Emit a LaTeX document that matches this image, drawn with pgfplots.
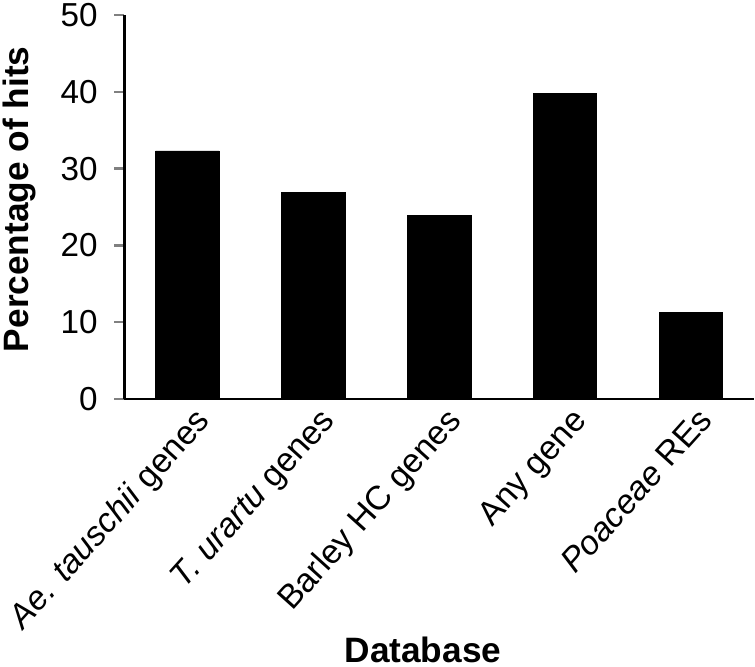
\documentclass[border=0pt]{standalone}
\usepackage{fontspec}
\setmainfont{Liberation Sans}
\usepackage{pgfplots}
\pgfplotsset{compat=1.18}
\begin{document}
\begin{tikzpicture}
\begin{axis}[
  scale only axis,
  width=625pt, height=381pt,
  xmin=-0.5, xmax=4.5, ymin=0, ymax=50,
  axis x line*=bottom, axis y line*=left,
  axis line style={line width=2.5pt},
  ytick={0,10,20,30,40,50},
  tick align=outside,
  major tick length=10pt,
  ytick style={line width=2.5pt},
  xtick=data,
  xtick style={draw=none},
  xticklabels={{\textit{Ae. tauschii} genes},{\textit{T. urartu} genes},{Barley HC genes},{Any gene},{\textit{Poaceae} REs}},
  xticklabel style={rotate=48, anchor=north east, font=\fontsize{33.5}{40}\selectfont, inner sep=2pt, xshift=8pt},
  yticklabel style={font=\fontsize{33}{40}\selectfont, xshift=-13pt},
  /pgf/number format/assume math mode=true,
  ylabel={\bfseries Percentage of hits},
  xlabel={\bfseries Database},
  label style={font=\fontsize{35}{42}\selectfont},
  ylabel style={at={(axis description cs:-0.166,0.52)}, anchor=center},
  xlabel style={xshift=-16pt, yshift=4pt},
  clip=false,
]
\addplot[ybar, bar width=63pt, fill=black, draw=black] coordinates {
  (0,32.3) (1,26.9) (2,23.9) (3,39.8) (4,11.3)
};
\end{axis}
\end{tikzpicture}
\end{document}
